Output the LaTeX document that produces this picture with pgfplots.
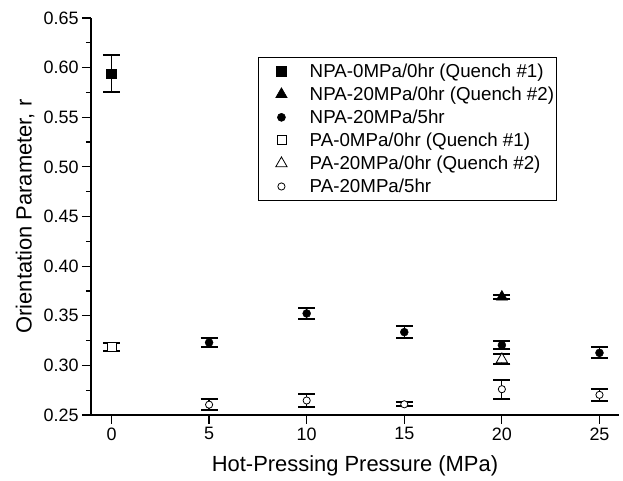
\documentclass[border=0pt]{standalone}
\usepackage{pgfplots}
\pgfplotsset{compat=1.18}
\usepackage{fontspec}
\setmainfont{Liberation Sans}
\pgfplotsset{lgd/.style={legend image code/.code={%
  \path (-23bp,0bp) (26bp,0bp);
  \draw[##1, only marks] plot coordinates {(0bp,0bp)};}}}
\begin{document}
\begin{tikzpicture}
\begin{axis}[
  scale only axis,
  width=528bp, height=397bp,
  xmin=-1.05, xmax=26, ymin=0.25, ymax=0.65,
  axis lines*=left,
  axis line style={line width=1.3bp},
  xtick={0,5,10,15,20,25},
  ytick={0.25,0.30,0.35,0.40,0.45,0.50,0.55,0.60,0.65},
  minor y tick num=1,
  tick align=outside,
  major tick length=9bp, minor tick length=5bp,
  tick style={line width=1.2bp, black},
  /pgf/number format/assume math mode=true,
  y tick label style={/pgf/number format/.cd, fixed, fixed zerofill, precision=2},
  ticklabel style={font=\fontsize{18}{20}\selectfont},
  xlabel={Hot-Pressing Pressure (MPa)},
  ylabel={Orientation Parameter, r},
  label style={font=\fontsize{22}{24}\selectfont},
  xlabel style={at={(axis description cs:0.5,-0.128)}, anchor=center},
  ylabel style={at={(axis description cs:-0.125,0.5)}, anchor=center},
  legend style={at={(axis description cs:0.316,0.902)}, anchor=north west,
    draw=black, line width=0.6bp, font=\fontsize{18.8}{21}\selectfont,
    inner xsep=0bp, inner ysep=4.5bp, row sep=4bp},
  legend cell align=left,
  error bars/y dir=both, error bars/y explicit,
  error bars/error bar style={line width=1.2bp, black},
  error bars/error mark options={rotate=90, mark size=8.5bp, line width=2bp, black},
]
% 1 NPA-0MPa/0hr (Quench #1)
\addplot[only marks, black, mark=square*, mark size=4.8bp, lgd]
  coordinates {(0,0.5938) +- (0,0.0185)};
\addlegendentry{NPA-0MPa/0hr (Quench \#1)}
% 2 NPA-20MPa/0hr (Quench #2)
\addplot[only marks, black, mark=triangle*, mark size=6.5bp, lgd]
  coordinates {(20,0.369) +- (0,0.002)};
\addlegendentry{NPA-20MPa/0hr (Quench \#2)}
% 3 NPA-20MPa/5hr
\addplot[only marks, black, mark=*, mark size=4bp, lgd]
  coordinates {
    (5,0.3230) +- (0,0.0044)
    (10,0.3523) +- (0,0.0057)
    (15,0.3335) +- (0,0.0063)
    (20,0.3204) +- (0,0.0040)
    (25,0.3126) +- (0,0.0055)
  };
\addlegendentry{NPA-20MPa/5hr}
% 4 PA-0MPa/0hr (Quench #1)
\addplot[only marks, black, mark=square*, mark size=4.5bp, mark options={fill=white, line width=0.8bp}, lgd]
  coordinates {(0,0.3184) +- (0,0.004)};
\addlegendentry{PA-0MPa/0hr (Quench \#1)}
% 5 PA-20MPa/0hr (Quench #2)
\addplot[only marks, black, mark=triangle*, mark size=6.5bp, mark options={fill=white, line width=0.8bp}, lgd]
  coordinates {(20,0.306) +- (0,0.005)};
\addlegendentry{PA-20MPa/0hr (Quench \#2)}
% 6 PA-20MPa/5hr
\addplot[only marks, black, mark=*, mark size=3.6bp, mark options={fill=white, line width=0.8bp}, lgd]
  coordinates {
    (5,0.2604) +- (0,0.0054)
    (10,0.2646) +- (0,0.0068)
    (15,0.2608) +- (0,0.0020)
    (20,0.2760) +- (0,0.0097)
    (25,0.2703) +- (0,0.0059)
  };
\addlegendentry{PA-20MPa/5hr}
\end{axis}
\path (current axis.south west) ++(-91bp,-66bp) rectangle ++(623bp,481bp);
\end{tikzpicture}
\end{document}
